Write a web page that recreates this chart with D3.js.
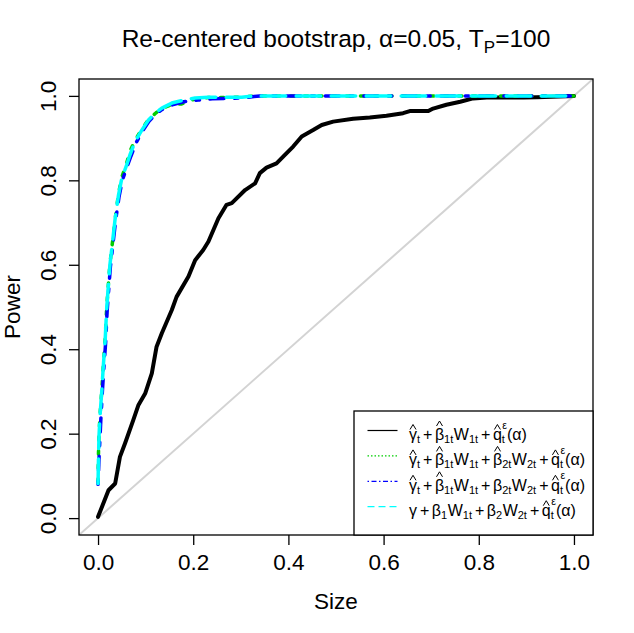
<!DOCTYPE html>
<html>
<head>
<meta charset="utf-8">
<script src="https://cdn.jsdelivr.net/npm/d3@7"></script>
<style>
  body { margin: 0; background: #fff; }
  svg { display: block; }
  text { font-family: "Liberation Sans", Arial, sans-serif; fill: #000; }
</style>
</head>
<body>
<svg id="chart" width="634" height="633"></svg>
<script>
// Power vs size curves
const sizeBlack = [0, 0.022, 0.036, 0.046, 0.057, 0.074, 0.085, 0.099, 0.113, 0.123, 0.134, 0.155, 0.165, 0.190, 0.204, 0.221, 0.232, 0.253, 0.270, 0.281, 0.309, 0.330, 0.340, 0.354, 0.375, 0.389, 0.410, 0.428, 0.452, 0.470, 0.494, 0.536, 0.571, 0.606, 0.641, 0.655, 0.694, 0.704, 0.732, 0.761, 0.788, 0.817, 0.894, 0.922, 1.0];
const powerBlack = [0.003, 0.066, 0.082, 0.145, 0.178, 0.232, 0.268, 0.295, 0.343, 0.406, 0.438, 0.493, 0.524, 0.572, 0.611, 0.635, 0.655, 0.710, 0.742, 0.746, 0.777, 0.793, 0.817, 0.830, 0.840, 0.856, 0.880, 0.904, 0.919, 0.931, 0.939, 0.946, 0.949, 0.953, 0.959, 0.964, 0.964, 0.970, 0.979, 0.986, 0.994, 0.996, 0.996, 0.997, 1.0];

const sizeGreen = [0, 0.001, 0.002, 0.004, 0.008, 0.011, 0.015, 0.018, 0.022, 0.025, 0.029, 0.038, 0.043, 0.050, 0.060, 0.067, 0.078, 0.092, 0.106, 0.122, 0.134, 0.155, 0.176, 0.204, 0.232, 0.302, 0.335, 1.0];
const powerGreen = [0.085, 0.157, 0.195, 0.242, 0.305, 0.360, 0.425, 0.495, 0.558, 0.602, 0.641, 0.726, 0.768, 0.808, 0.840, 0.869, 0.895, 0.921, 0.944, 0.960, 0.970, 0.979, 0.981, 0.993, 0.996, 0.997, 1.0, 1.0];

const sizeBlue = [0, 0.002, 0.004, 0.006, 0.009, 0.012, 0.016, 0.019, 0.023, 0.026, 0.030, 0.037, 0.044, 0.051, 0.061, 0.069, 0.080, 0.093, 0.107, 0.121, 0.135, 0.156, 0.180, 0.210, 0.240, 0.302, 0.340, 1.0];
const powerBlue = [0.080, 0.140, 0.188, 0.236, 0.298, 0.352, 0.416, 0.488, 0.550, 0.596, 0.635, 0.705, 0.760, 0.800, 0.832, 0.857, 0.889, 0.916, 0.940, 0.957, 0.968, 0.979, 0.986, 0.990, 0.993, 0.995, 1.0, 1.0];

const sizeCyan = [0, 0.001, 0.002, 0.004, 0.008, 0.011, 0.015, 0.018, 0.022, 0.025, 0.029, 0.036, 0.043, 0.050, 0.060, 0.067, 0.078, 0.092, 0.106, 0.120, 0.134, 0.155, 0.176, 0.204, 0.232, 0.302, 0.330, 1.0];
const powerCyan = [0.082, 0.145, 0.193, 0.240, 0.303, 0.359, 0.422, 0.493, 0.556, 0.600, 0.639, 0.710, 0.765, 0.805, 0.836, 0.860, 0.892, 0.919, 0.943, 0.959, 0.971, 0.983, 0.989, 0.995, 0.997, 0.997, 1.0, 1.0];

const tickValues = [0, 0.2, 0.4, 0.6, 0.8, 1.0];
const tickLabels = ["0.0", "0.2", "0.4", "0.6", "0.8", "1.0"];

// legend expressions: strings are operators, objects are (hatted) symbols
const legendExprs = [
  [{ b: "γ", hat: 1, sub: "t" }, "+", { b: "β", hat: 1, sub: "1t" }, { b: "W", sub: "1t" }, "+", { b: "q", hat: 1, sub: "t", sup: "ε" }, { b: "(α)" }],
  [{ b: "γ", hat: 1, sub: "t" }, "+", { b: "β", hat: 1, sub: "1t" }, { b: "W", sub: "1t" }, "+", { b: "β", hat: 1, sub: "2t" }, { b: "W", sub: "2t" }, "+", { b: "q", hat: 1, sub: "t", sup: "ε" }, { b: "(α)" }],
  [{ b: "γ", hat: 1, sub: "t" }, "+", { b: "β", hat: 1, sub: "1t" }, { b: "W", sub: "1t" }, "+", { b: "β", sub: "2t" }, { b: "W", sub: "2t" }, "+", { b: "q", hat: 1, sub: "t", sup: "ε" }, { b: "(α)" }],
  [{ b: "γ" }, "+", { b: "β", sub: "1" }, { b: "W", sub: "1t" }, "+", { b: "β", sub: "2" }, { b: "W", sub: "2t" }, "+", { b: "q", hat: 1, sub: "t", sup: "ε" }, { b: "(α)" }]
];

// styles (R lty scaled by lwd)
const series = [
  { size: sizeBlack, power: powerBlack, color: "#000000", lwd: 4, dash: null, legendDash: null },
  { size: sizeGreen, power: powerGreen, color: "#00CD00", lwd: 3.5, dash: "3.5,10.5", legendDash: "1.5,2" },
  { size: sizeBlue, power: powerBlue, color: "#0000FF", lwd: 3.5, dash: "3.5,10.5,14,10.5", legendDash: "1.5,2.5,5,2.5" },
  { size: sizeCyan, power: powerCyan, color: "#00FFFF", lwd: 3.5, dash: "24.5,10.5", legendDash: "7,4" }
];

const margin = { top: 79, right: 41, bottom: 98, left: 79 };
const width = 634 - margin.left - margin.right;
const height = 633 - margin.top - margin.bottom;

const svg = d3.select("#chart");

svg.append("clipPath").attr("id", "plot-clip")
  .append("rect").attr("width", width).attr("height", height);

const g = svg.append("g").attr("transform", `translate(${margin.left},${margin.top})`);

const x = d3.scaleLinear().domain([-0.04, 1.04]).range([0, width]);
const y = d3.scaleLinear().domain([-0.04, 1.04]).range([height, 0]);

const line = d3.line().x((d) => x(d[0])).y((d) => y(d[1]));

const plot = g.append("g").attr("clip-path", "url(#plot-clip)");

// 45 degree reference line
plot.append("path")
  .datum(x.domain().map((v) => [v, v]))
  .attr("fill", "none")
  .attr("stroke", "#D3D3D3")
  .attr("stroke-width", 2)
  .attr("d", line);

series.forEach((s) => {
  plot.append("path")
    .datum(d3.zip(s.size, s.power))
    .attr("fill", "none")
    .attr("stroke", s.color)
    .attr("stroke-width", s.lwd)
    .attr("stroke-linecap", "round")
    .attr("stroke-linejoin", "round")
    .attr("stroke-dasharray", s.dash)
    .attr("d", line);
});

// box
g.append("rect")
  .attr("width", width).attr("height", height)
  .attr("fill", "none").attr("stroke", "#000").attr("stroke-width", 1.3);

// axes
const xAxis = g.append("g")
  .attr("transform", `translate(0,${height})`)
  .call(d3.axisBottom(x).tickValues(tickValues).tickFormat((d, i) => tickLabels[i]).tickSize(10));
xAxis.select(".domain").remove();
xAxis.selectAll("line").attr("stroke-width", 1.3);
xAxis.selectAll("text")
  .attr("y", 35).attr("dy", null)
  .style("font-size", "22.5px")
  .style("font-family", "'Liberation Sans', Arial, sans-serif");

const yAxis = g.append("g")
  .call(d3.axisLeft(y).tickValues(tickValues).tickFormat((d, i) => tickLabels[i]).tickSize(10));
yAxis.select(".domain").remove();
yAxis.selectAll("line").attr("stroke-width", 1.3);
yAxis.selectAll("text")
  .attr("x", 0).attr("y", 0).attr("dy", null)
  .attr("text-anchor", "middle")
  .attr("transform", "translate(-23,0) rotate(-90)")
  .style("font-size", "22.5px")
  .style("font-family", "'Liberation Sans', Arial, sans-serif");

// axis titles
g.append("text")
  .attr("x", width / 2).attr("y", height + 74)
  .attr("text-anchor", "middle")
  .style("font-size", "22.5px")
  .text("Size");

g.append("text")
  .attr("transform", `translate(-59,${height / 2}) rotate(-90)`)
  .attr("text-anchor", "middle")
  .style("font-size", "22.5px")
  .text("Power");

// main title
const title = svg.append("text")
  .attr("x", margin.left + width / 2).attr("y", 47)
  .attr("text-anchor", "middle")
  .style("font-size", "24.5px");
title.append("tspan").text("Re-centered bootstrap, α=0.05, T");
title.append("tspan").attr("dy", 5.5).style("font-size", "17px").text("P");
title.append("tspan").attr("dy", -5.5).text("=100");

// legend
const legend = g.append("g").attr("transform", `translate(${width - 239},${height - 124})`);
legend.append("rect")
  .attr("width", 239).attr("height", 124)
  .attr("fill", "#fff").attr("stroke", "#000").attr("stroke-width", 1.3);

const fs = 16;
function drawExpr(sel, tokens, x0, base) {
  let cx = x0;
  tokens.forEach((tok) => {
    if (typeof tok === "string") {
      cx += 2.5;
      const t = sel.append("text").attr("x", cx).attr("y", base).style("font-size", fs + "px").text(tok);
      cx += t.node().getComputedTextLength() + 2.5;
      return;
    }
    const t = sel.append("text").attr("x", cx).attr("y", base).style("font-size", fs + "px").text(tok.b);
    const w = t.node().getComputedTextLength();
    if (tok.hat) {
      const top = tok.b === "β" || tok.b === "W" ? base - 13 : base - 9.5;
      const mid = cx + w / 2;
      sel.append("path")
        .attr("d", `M${mid - 3},${top - 1} L${mid},${top - 6} L${mid + 3},${top - 1}`)
        .attr("fill", "none").attr("stroke", "#000").attr("stroke-width", 1);
    }
    cx += w;
    let extra = 0;
    if (tok.sub) {
      const s = sel.append("text").attr("x", cx).attr("y", base + 3).style("font-size", "11px").text(tok.sub);
      extra = s.node().getComputedTextLength();
    }
    if (tok.sup) {
      const s = sel.append("text").attr("x", cx + 0.5).attr("y", base - 11.5).style("font-size", "10.5px").text(tok.sup);
      extra = Math.max(extra, s.node().getComputedTextLength());
    }
    cx += extra + 0.5;
  });
}

series.forEach((s, i) => {
  const ly = 19.5 + i * 25.4;
  legend.append("line")
    .attr("x1", 13.5).attr("x2", 43.5)
    .attr("y1", ly).attr("y2", ly)
    .attr("stroke", s.color).attr("stroke-width", 1.2)
    .attr("stroke-dasharray", s.legendDash);
  drawExpr(legend, legendExprs[i], 55, ly + 9.5);
});
</script>
</body>
</html>
